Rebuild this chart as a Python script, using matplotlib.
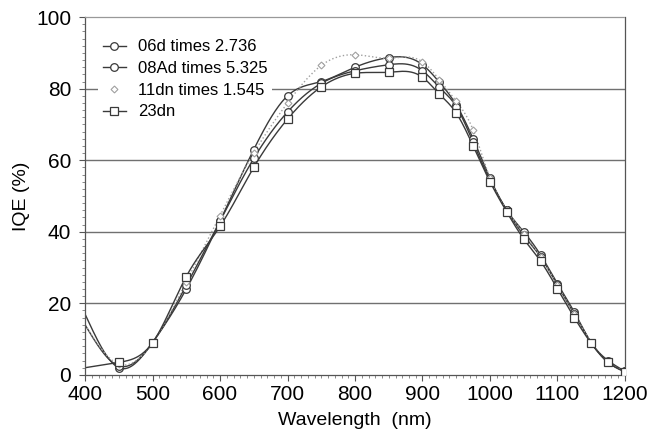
import numpy as np
import matplotlib
matplotlib.use("Agg")
import matplotlib.pyplot as plt
from matplotlib.ticker import MultipleLocator

plt.rcParams['font.family'] = ['Liberation Sans', 'DejaVu Sans']

wavelength = [400, 450, 500, 550, 600, 650, 700, 750, 800, 850, 900, 925, 950,
              975, 1000, 1025, 1050, 1075, 1100, 1125, 1150, 1175, 1200]

iqe_06d = [17, 2, 9, 24, 43, 63, 78, 82, 86, 88.7, 86.7, 81.8, 75.5,
           66, 55, 46, 40, 33.5, 25.5, 17.5, 9, 4, 1]
iqe_08ad = [14, 2.5, 9, 25, 43, 60.5, 73.5, 81.5, 85, 86.7, 85, 80.4, 75,
            65, 54.5, 46, 39, 33, 25, 17, 9, 3.5, 1]
iqe_11dn = [14, 3, 9, 26, 44.5, 62, 76, 86.5, 89.5, 88.5, 87.5, 82.5, 76.5,
            68.5, 55, 46, 39.5, 33, 25, 17, 9, 3.5, 1]
iqe_23dn = [2, 3.5, 9, 27.5, 41.5, 58, 71.5, 80.5, 84.3, 84.6, 83.2, 78.5, 73.2,
            64, 54, 45.5, 38, 31.8, 24, 16, 8.8, 3.5, 0.8]

labels = ["06d times 2.736", "08Ad times 5.325", "11dn times 1.545", "23dn"]


def smooth(x, y, n=600):
    x = np.asarray(x, float)
    y = np.asarray(y, float)
    h = np.diff(x)
    m = len(x)
    A = np.zeros((m, m))
    b = np.zeros(m)
    A[0, 0] = 1
    A[-1, -1] = 1
    for i in range(1, m - 1):
        A[i, i - 1] = h[i - 1]
        A[i, i] = 2 * (h[i - 1] + h[i])
        A[i, i + 1] = h[i]
        b[i] = 6 * ((y[i + 1] - y[i]) / h[i] - (y[i] - y[i - 1]) / h[i - 1])
    M = np.linalg.solve(A, b)
    xs = np.linspace(x[0], x[-1], n)
    idx = np.clip(np.searchsorted(x, xs) - 1, 0, m - 2)
    x0, x1 = x[idx], x[idx + 1]
    hh = x1 - x0
    t0 = x1 - xs
    t1 = xs - x0
    ys = (M[idx] * t0 ** 3 + M[idx + 1] * t1 ** 3) / (6 * hh) \
        + (y[idx] / hh - M[idx] * hh / 6) * t0 \
        + (y[idx + 1] / hh - M[idx + 1] * hh / 6) * t1
    return xs, ys


fig = plt.figure(figsize=(6.49, 4.40), dpi=100)
ax = fig.add_axes([0.131, 0.148, 0.832, 0.813])

dark = '#3a3a3a'
styles = [
    dict(color=dark, lw=1.0, ls='-', marker='o', ms=5.5, mfc='white', mec=dark, mew=0.9),
    dict(color=dark, lw=1.0, ls='-', marker='o', ms=5.5, mfc='white', mec=dark, mew=0.9),
    dict(color='#a0a0a0', lw=1.0, ls=':', marker='D', ms=3.5, mfc='white', mec='#a0a0a0', mew=0.8),
    dict(color=dark, lw=1.0, ls='-', marker='s', ms=5.5, mfc='white', mec=dark, mew=0.9),
]
series = [iqe_06d, iqe_08ad, iqe_11dn, iqe_23dn]

for yy in [20, 40, 60, 80]:
    ax.axhline(yy, color='#707070', lw=1.0, zorder=1)

handles = []
for s, st, lab in zip(series, styles, labels):
    xs, ys = smooth(wavelength, s)
    ax.plot(xs, ys, color=st['color'], lw=st['lw'], ls=st['ls'], zorder=2)
    ax.plot(wavelength[1:], s[1:], ls='none', marker=st['marker'], ms=st['ms'],
            mfc=st['mfc'], mec=st['mec'], mew=st['mew'], zorder=3)
    h, = ax.plot([], [], color=st['color'], lw=st['lw'],
                 ls='-' if st['ls'] == '-' else 'none',
                 marker=st['marker'], ms=st['ms'], mfc=st['mfc'],
                 mec=st['mec'], mew=st['mew'])
    handles.append(h)

leg = ax.legend(handles, labels, loc='upper left', bbox_to_anchor=(0.008, 0.975),
                fontsize=12, frameon=True, facecolor='white', edgecolor='none',
                framealpha=1, handlelength=1.4, handletextpad=0.7,
                labelspacing=0.4, borderpad=0.3)
leg.set_zorder(1.5)

ax.set_xlim(400, 1200)
ax.set_ylim(0, 100)
ax.xaxis.set_major_locator(MultipleLocator(100))
ax.xaxis.set_minor_locator(MultipleLocator(10))
ax.yaxis.set_major_locator(MultipleLocator(20))
ax.yaxis.set_minor_locator(MultipleLocator(2))
ax.tick_params(which='major', direction='out', length=4, width=0.8, labelsize=15,
               color='#555555')
ax.tick_params(axis='x', which='major', pad=3)
ax.tick_params(axis='y', which='major', pad=6)
ax.tick_params(which='minor', direction='out', length=2, width=0.6, color='#777777')

for sp in ax.spines.values():
    sp.set_color('#555555')
    sp.set_linewidth(0.9)
ax.spines['top'].set_color('#999999')
ax.spines['top'].set_linestyle((0, (2, 1)))

ax.set_xlabel('Wavelength  (nm)', fontsize=14, labelpad=6)
ax.set_ylabel('IQE (%)', fontsize=14, labelpad=4)

fig.savefig('out.png', dpi=100, facecolor='white')
